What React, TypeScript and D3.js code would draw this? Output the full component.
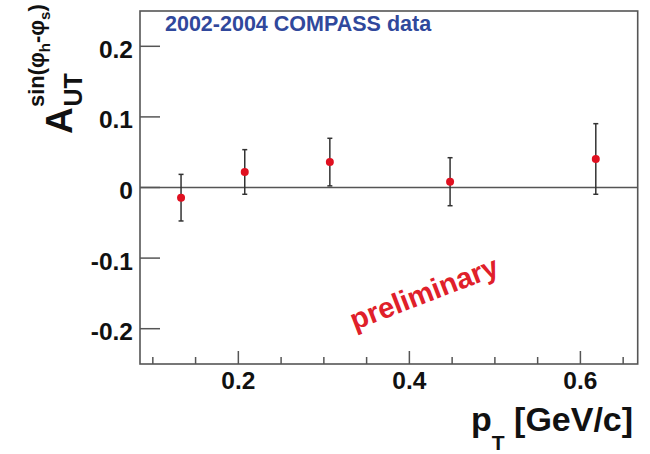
import React from "react";
import * as d3 from "d3";

const pT = [0.133, 0.2075, 0.307, 0.4476, 0.618];
const asym = [-0.0144, 0.022, 0.036, 0.0082, 0.0404];
const err = [0.033, 0.0316, 0.0337, 0.034, 0.05];

const xMajor = [0.2, 0.4, 0.6];
const xMajorLabels = ["0.2", "0.4", "0.6"];
const xMinor = [0.1, 0.15, 0.25, 0.3, 0.35, 0.45, 0.5, 0.55, 0.65];
const yTicks = [-0.2, -0.1, 0, 0.1, 0.2];
const yTickLabels = ["-0.2", "-0.1", "0", "0.1", "0.2"];

const W = 650;
const H = 454;
const L = 140, R = 637.7, T = 11, B = 364;

export default function App() {
  const x = d3.scaleLinear().domain([0.085, 0.667]).range([L, R]);
  const y = d3.scaleLinear().domain([-0.25, 0.25]).range([B, T]);
  const axisColor = "#555";
  const font = "Liberation Sans, Arial, sans-serif";
  return (
    <svg width={W} height={H} style={{ position: "absolute", left: 0, top: 0, background: "#fff" }} fontFamily={font}>
      <rect x={0} y={0} width={W} height={H} fill="#fff" />
      {/* zero line */}
      <line x1={L} x2={R} y1={y(0)} y2={y(0)} stroke="#555" strokeWidth={1.5} />
      {/* frame */}
      <rect x={L} y={T} width={R - L} height={B - T} fill="none" stroke={axisColor} strokeWidth={1.6} />
      {/* y ticks */}
      {yTicks.map((t, i) => (
        <g key={"yt" + i}>
          <line x1={L} x2={L + 20} y1={y(t)} y2={y(t)} stroke={axisColor} strokeWidth={1.5} />
          <text x={L - 7} y={y(t) + 11.5} textAnchor="end" fontSize={24.5} fontWeight="bold" fill="#111">
            {yTickLabels[i]}
          </text>
        </g>
      ))}
      {/* x ticks */}
      {xMajor.map((t, i) => (
        <g key={"xm" + i}>
          <line x1={x(t)} x2={x(t)} y1={B} y2={B - 13} stroke={axisColor} strokeWidth={1.5} />
          <text x={x(t)} y={389} textAnchor="middle" fontSize={24.5} fontWeight="bold" fill="#111">
            {xMajorLabels[i]}
          </text>
        </g>
      ))}
      {xMinor.map((t, i) => (
        <line key={"xn" + i} x1={x(t)} x2={x(t)} y1={B} y2={B - 7} stroke={axisColor} strokeWidth={1.5} />
      ))}
      {/* error bars & points */}
      {pT.map((p, i) => {
        const cx = x(p);
        const y1 = y(asym[i] + err[i]);
        const y2 = y(asym[i] - err[i]);
        return (
          <g key={"pt" + i}>
            <line x1={cx} x2={cx} y1={y1} y2={y2} stroke="#333" strokeWidth={1.5} />
            <line x1={cx - 2.5} x2={cx + 2.5} y1={y1} y2={y1} stroke="#333" strokeWidth={1.5} />
            <line x1={cx - 2.5} x2={cx + 2.5} y1={y2} y2={y2} stroke="#333" strokeWidth={1.5} />
            <circle cx={cx} cy={y(asym[i])} r={4} fill="#e01020" />
          </g>
        );
      })}
      {/* title */}
      <text x={165} y={31} fontSize={21.5} fontWeight="bold" fill="#30489c">
        2002-2004 COMPASS data
      </text>
      {/* preliminary */}
      <g transform="translate(424,293) rotate(-21)">
        <text x={0} y={10} textAnchor="middle" fontSize={29} fontWeight="bold" fill="#e0202a">
          preliminary
        </text>
      </g>
      {/* x label */}
      <text x={471} y={431} fontSize={34} fontWeight="bold" fill="#111">
        <tspan>p</tspan>
        <tspan fontSize={21} dy={19}>T</tspan>
        <tspan dy={-19}> [GeV/c]</tspan>
      </text>
      {/* y label */}
      <g transform="translate(72,134) rotate(-90)">
        <text x={0} y={0} fontSize={37} fontWeight="bold" fill="#111">A</text>
        <text x={27.5} y={10} fontSize={25} fontWeight="bold" fill="#111">UT</text>
        <text x={27} y={-28} fontSize={22} fontWeight="bold" fill="#111">
          <tspan>sin(φ</tspan>
          <tspan fontSize={15} dy={6}>h</tspan>
          <tspan dy={-6}>-φ</tspan>
          <tspan fontSize={15} dy={6}>s</tspan>
          <tspan dy={-6}>)</tspan>
        </text>
      </g>
    </svg>
  );
}
